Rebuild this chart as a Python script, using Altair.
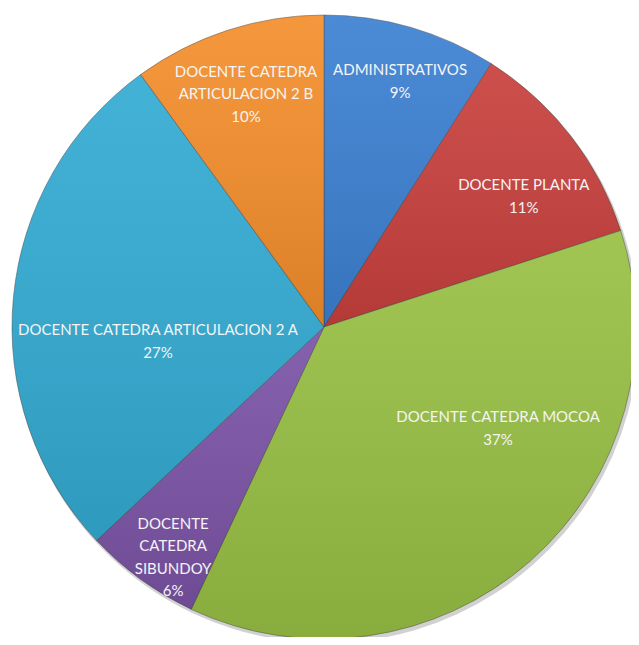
import math
import altair as alt
import pandas as pd

# data
categories = [
    "ADMINISTRATIVOS",
    "DOCENTE PLANTA",
    "DOCENTE CATEDRA MOCOA",
    "DOCENTE CATEDRA SIBUNDOY",
    "DOCENTE CATEDRA ARTICULACION 2 A",
    "DOCENTE CATEDRA ARTICULACION 2 B",
]
percents = [9, 11, 37, 6, 27, 10]
label_lines = [
    "ADMINISTRATIVOS",
    "DOCENTE PLANTA",
    "DOCENTE CATEDRA MOCOA",
    "DOCENTE\nCATEDRA\nSIBUNDOY",
    "DOCENTE CATEDRA ARTICULACION 2 A",
    "DOCENTE CATEDRA\nARTICULACION 2 B",
]

# styling / layout
colors = ["#3C80D2", "#C8403D", "#98C044", "#7B53A6", "#33ABD3", "#F48E2C"]
label_radius = [268, 245, 196, 248, 166, 267]
label_shift = [0.08, 0.67, -5.9, 0.41, -1.79, 0.28]

df = pd.DataFrame({
    "order": list(range(len(categories))),
    "category": categories,
    "value": percents,
    "label": [f"{l}\n{p}%" for l, p in zip(label_lines, percents)],
    "lr": label_radius,
    "shift": label_shift,
})

CX, CY, R = 316, 319, 312
theta_scale = alt.Scale(domain=[0, 100], range=[0, 2 * math.pi])

base = alt.Chart(df).transform_window(
    cum="sum(value)", sort=[alt.SortField("order")], frame=[None, 0]
).transform_calculate(
    start="datum.cum - datum.value",
    mid="(datum.cum*2 - datum.value)/2 + datum.shift",
)

shadow = base.mark_arc(radius=R + 1, color="#000000", opacity=0.18).encode(
    theta=alt.Theta("start:Q", scale=theta_scale),
    theta2="cum:Q",
    x=alt.value(CX + 2),
    y=alt.value(CY + 3),
)

arcs = base.mark_arc(radius=R, stroke="#404040", strokeOpacity=0.45, strokeWidth=1).encode(
    theta=alt.Theta("start:Q", scale=theta_scale),
    theta2="cum:Q",
    color=alt.Color("category:N", scale=alt.Scale(domain=categories, range=colors), legend=None),
    x=alt.value(CX),
    y=alt.value(CY),
)

shade = base.mark_arc(
    radius=R,
    color=alt.Gradient(
        gradient="linear", x1=0, y1=0, x2=0, y2=1,
        stops=[
            alt.GradientStop(offset=0, color="rgba(255,255,255,0.08)"),
            alt.GradientStop(offset=1, color="rgba(0,0,0,0.10)"),
        ],
    ),
).encode(
    theta=alt.Theta("start:Q", scale=theta_scale),
    theta2="cum:Q",
    x=alt.value(CX),
    y=alt.value(CY),
)

labels = base.mark_text(
    font="Lato", fontSize=15, color="#F4F4F4", lineBreak="\n", lineHeight=22.5,
    align="center", baseline="middle",
).encode(
    theta=alt.Theta("mid:Q", scale=theta_scale),
    radius=alt.Radius("lr:Q", scale=None),
    text="label:N",
    x=alt.value(CX),
    y=alt.value(CY),
)

chart = alt.layer(shadow, arcs, shade, labels).properties(
    width=623, height=629, autosize=alt.AutoSizeParams(type="none"), padding=0,
).configure_view(stroke=None)

chart.save("out.html", embed_options={"renderer": "svg", "actions": False})
